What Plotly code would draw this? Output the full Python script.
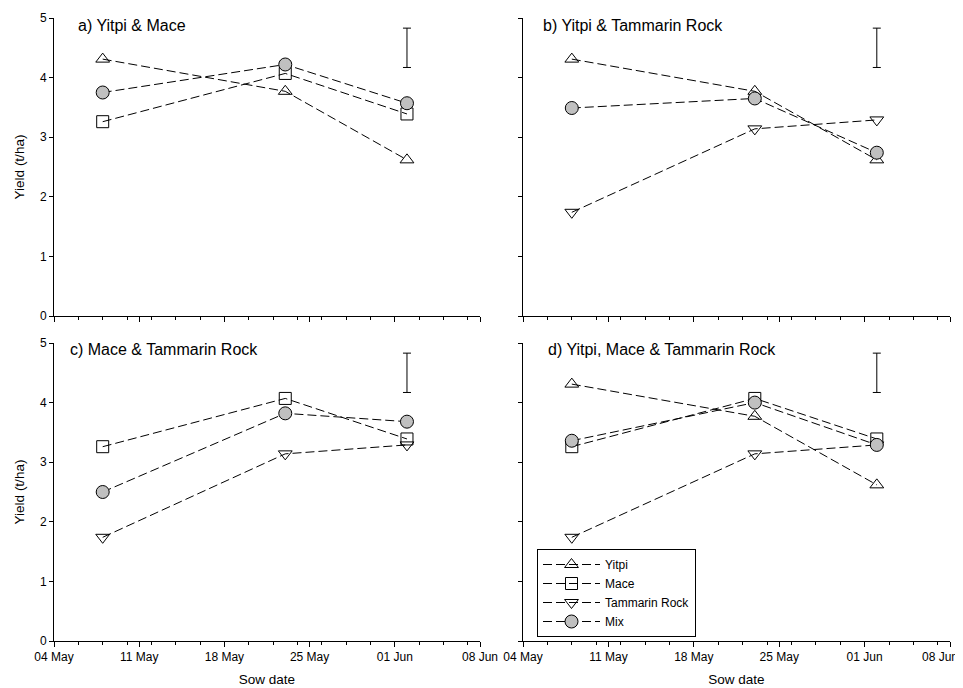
import plotly.graph_objects as go

# ---- data ----
dates = ["2014-05-08", "2014-05-23", "2014-06-02"]
yitpi = [4.31, 3.77, 2.62]
mace = [3.26, 4.07, 3.39]
tammarin = [1.74, 3.14, 3.29]
mix_a = [3.75, 4.22, 3.57]
mix_b = [3.49, 3.65, 2.74]
mix_c = [2.50, 3.82, 3.68]
mix_d = [3.36, 4.00, 3.29]
lsd_date = ["2014-06-02"]
lsd_mid = [4.50]
lsd_half = [0.33]
panel_titles = ["a) Yitpi & Mace", "b) Yitpi & Tammarin Rock",
                "c) Mace & Tammarin Rock", "d) Yitpi, Mace & Tammarin Rock"]
edge_tick_label = "08 Jun"

# page body has an 8px margin; figure fills the rest of the 963x688 window
OFF = 8
W, H = 963 - OFF, 688 - OFF
FONT = "Liberation Sans, Arial, sans-serif"
DASH = "9px,4px"

styles = {
    "Yitpi": dict(symbol="triangle-up-open", size=12, color="black", line=dict(width=1, color="black")),
    "Mace": dict(symbol="square-open", size=12, color="black", line=dict(width=1, color="black")),
    "Tammarin Rock": dict(symbol="triangle-down-open", size=12, color="black", line=dict(width=1, color="black")),
    "Mix": dict(symbol="circle", size=13, color="#c0c0c0", line=dict(width=1, color="black")),
}

panels = [
    ("x", "y", [("Yitpi", yitpi), ("Mace", mace), ("Mix", mix_a)]),
    ("x2", "y2", [("Yitpi", yitpi), ("Tammarin Rock", tammarin), ("Mix", mix_b)]),
    ("x3", "y3", [("Mace", mace), ("Tammarin Rock", tammarin), ("Mix", mix_c)]),
    ("x4", "y4", [("Yitpi", yitpi), ("Mace", mace), ("Tammarin Rock", tammarin), ("Mix", mix_d)]),
]

fig = go.Figure()
for i, (xa, ya, series) in enumerate(panels):
    for name, vals in series:
        fig.add_trace(go.Scatter(
            x=dates, y=vals, mode="lines+markers", name=name,
            xaxis=xa, yaxis=ya, legendgroup=name, showlegend=(i == 3),
            line=dict(color="black", width=1, dash=DASH),
            marker=styles[name], cliponaxis=False))
    fig.add_trace(go.Scatter(
        x=lsd_date, y=lsd_mid, mode="markers", xaxis=xa, yaxis=ya, showlegend=False,
        marker=dict(size=0.1, color="rgba(0,0,0,0)"),
        error_y=dict(type="data", array=lsd_half, color="black", thickness=1, width=4)))

def px_x(p):
    return (p - OFF) / W

def px_y(p):
    return 1 - (p - OFF) / H

xdom_l = [px_x(54), px_x(480)]
xdom_r = [px_x(523), px_x(950)]
ydom_t = [px_y(316), px_y(18)]
ydom_b = [px_y(641), px_y(343)]

DAY = 86400000
xcommon = dict(type="date", range=["2014-05-04", "2014-06-08"], tick0="2014-05-04", dtick=7 * DAY,
               tickformat="%d %b", showline=True, linecolor="black", linewidth=1,
               ticks="outside", ticklen=5, tickcolor="black", showgrid=False, zeroline=False,
               automargin=False,
               tickfont=dict(family=FONT, size=12, color="black"),
               minor=dict(ticks="outside", ticklen=2.5, tickcolor="black", dtick=2 * DAY,
                          tick0="2014-05-04", showgrid=False))
ycommon = dict(range=[0, 5], dtick=1, tick0=0, showline=True, linecolor="black", linewidth=1,
               ticks="outside", ticklen=4, tickcolor="black", showgrid=False, zeroline=False,
               automargin=False,
               tickfont=dict(family=FONT, size=12, color="black"))
title_font = dict(family=FONT, size=13.5, color="black")

fig.update_layout(
    width=W, height=H, margin=dict(l=0, r=0, t=0, b=0, autoexpand=False),
    paper_bgcolor="white", plot_bgcolor="white",
    xaxis=dict(xcommon, domain=xdom_l, anchor="y", showticklabels=False),
    yaxis=dict(ycommon, domain=ydom_t, anchor="x",
               title=dict(text="Yield (t/ha)", font=title_font, standoff=12)),
    xaxis2=dict(xcommon, domain=xdom_r, anchor="y2", showticklabels=False),
    yaxis2=dict(ycommon, domain=ydom_t, anchor="x2", showticklabels=False),
    xaxis3=dict(xcommon, domain=xdom_l, anchor="y3", ticklabeloverflow="allow",
                title=dict(text="Sow date", font=title_font, standoff=11)),
    yaxis3=dict(ycommon, domain=ydom_b, anchor="x3",
                title=dict(text="Yield (t/ha)", font=title_font, standoff=12)),
    xaxis4=dict(xcommon, domain=xdom_r, anchor="y4",
                title=dict(text="Sow date", font=title_font, standoff=11)),
    yaxis4=dict(ycommon, domain=ydom_b, anchor="x4", showticklabels=False),
    legend=dict(x=px_x(537), y=px_y(549), xanchor="left", yanchor="top",
                bordercolor="black", borderwidth=1, bgcolor="white",
                font=dict(family=FONT, size=12, color="black"),
                itemwidth=57, tracegroupgap=0, traceorder="normal"),
    showlegend=True,
)

title_pos = [(76, 25), (541, 25), (68, 349), (546, 349)]
for (tx, ty), txt in zip(title_pos, panel_titles):
    fig.add_annotation(x=px_x(tx), y=px_y(ty), xref="paper", yref="paper",
                       xanchor="left", yanchor="middle", showarrow=False, text=txt,
                       font=dict(family=FONT, size=16, color="black"))

# last tick label of panel d, kept inside the page edge
fig.add_annotation(x=px_x(960), y=px_y(657), xref="paper", yref="paper",
                   xanchor="right", yanchor="middle", showarrow=False, text=edge_tick_label,
                   font=dict(family=FONT, size=12, color="black"))

fig.write_html("out.html")
